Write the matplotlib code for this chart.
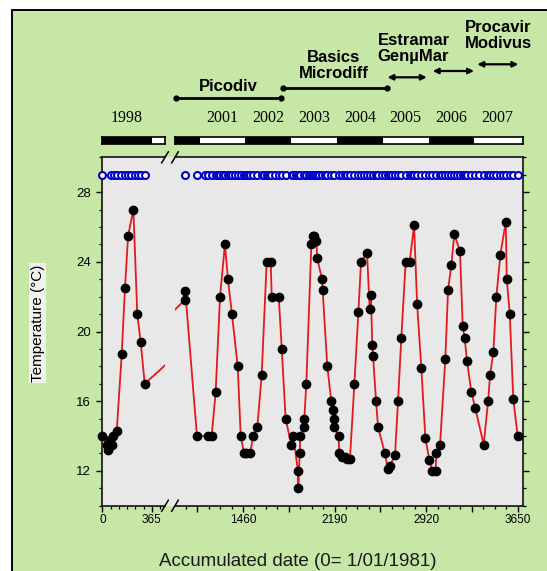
import matplotlib
matplotlib.use("Agg")
import matplotlib.pyplot as plt
from matplotlib.patches import Rectangle
from matplotlib.lines import Line2D
from matplotlib.ticker import MultipleLocator, FixedLocator, FixedFormatter
from matplotlib.transforms import blended_transform_factory
import numpy as np

plt.rcParams['font.family'] = ['Liberation Sans', 'DejaVu Sans']

# --- data ----------------------------------------------------------------
# days since start of record, temperature in deg C (one continuous series)
days = [0, 32, 40, 57, 69, 81, 106, 143, 167, 190, 229, 258, 283, 313,
        995, 1000, 1093, 1183, 1210, 1242, 1277, 1316, 1340, 1372, 1418,
        1442, 1468, 1484, 1516, 1542, 1574, 1609, 1649, 1681, 1689, 1745,
        1769, 1800, 1845, 1861, 1898, 1901, 1912, 1917, 1944, 1949, 1965,
        2005, 2016, 2030, 2045, 2052, 2090, 2095, 2132, 2164, 2175, 2183,
        2188, 2223, 2226, 2250, 2276, 2292, 2313, 2348, 2380, 2401, 2449,
        2470, 2480, 2491, 2497, 2521, 2537, 2592, 2614, 2632, 2672, 2696,
        2722, 2757, 2789, 2824, 2848, 2882, 2914, 2946, 2970, 2995, 3001,
        3031, 3073, 3095, 3121, 3145, 3190, 3212, 3228, 3246, 3281, 3312,
        3379, 3414, 3430, 3456, 3480, 3512, 3555, 3563, 3587, 3615, 3650]
temps = [14.0, 13.5, 13.2, 13.8, 13.5, 14.0, 14.3, 18.7, 22.5, 25.5, 27.0,
         21.0, 19.4, 17.0,
         21.8, 22.3, 14.0, 14.0, 14.0, 16.5, 22.0, 25.0, 23.0, 21.0, 18.0,
         14.0, 13.0, 13.0, 13.0, 14.0, 14.5, 17.5, 24.0, 24.0, 22.0, 22.0,
         19.0, 15.0, 13.5, 14.0, 12.0, 11.0, 13.0, 14.0, 14.5, 15.0, 17.0,
         25.0, 25.5, 25.5, 25.2, 24.2, 23.0, 22.4, 18.0, 16.0, 15.5, 15.0,
         14.5, 14.0, 13.0, 12.8, 12.8, 12.7, 12.7, 17.0, 21.1, 24.0, 24.5,
         21.3, 22.1, 19.2, 18.6, 16.0, 14.5, 13.0, 12.1, 12.3, 12.9, 16.0,
         19.6, 24.0, 24.0, 26.1, 21.6, 17.9, 13.9, 12.6, 12.0, 12.0, 13.0,
         13.5, 18.4, 22.4, 23.8, 25.6, 24.6, 20.3, 19.6, 18.3, 16.5, 15.6,
         13.5, 16.0, 17.5, 18.8, 22.0, 24.4, 26.3, 23.0, 21.0, 16.1, 14.0]

# sampling dates (blue open circles, drawn in a row at 29 deg C)
sample_days = [-2, 60, 85, 110, 140, 165, 190, 215, 240, 262, 285, 313,
               1000, 1093, 1160, 1183, 1210, 1242, 1260, 1277, 1297, 1316,
               1340, 1355, 1372, 1395, 1418, 1442, 1468, 1484, 1500, 1516,
               1542, 1574, 1609, 1630, 1649, 1665, 1681, 1712, 1745, 1769,
               1800, 1848, 1861, 1880, 1901, 1917, 1949, 1965, 1985, 2005,
               2016, 2037, 2050, 2070, 2090, 2110, 2132, 2164, 2186, 2223,
               2250, 2276, 2292, 2313, 2348, 2380, 2401, 2425, 2449, 2475,
               2497, 2521, 2537, 2565, 2592, 2614, 2632, 2650, 2672, 2696,
               2722, 2757, 2789, 2805, 2824, 2848, 2882, 2914, 2946, 2970,
               3001, 3031, 3050, 3073, 3095, 3121, 3145, 3165, 3190, 3212,
               3228, 3246, 3281, 3312, 3345, 3379, 3414, 3430, 3456, 3480,
               3512, 3535, 3555, 3587, 3615, 3650]
sample_row = 29.0

x_major_left = [0, 365]
x_labels_left = ['0', '365']
x_major_right = [1095, 1460, 1825, 2190, 2555, 2920, 3285, 3650]
x_labels_right = ['', '1460', '', '2190', '', '2920', '', '3650']

bar_years = list(range(1998, 2008))
label_years_left = [1998]
label_years_right = [2001, 2002, 2003, 2004, 2005, 2006, 2007]

# project names: text lines, x centre (days), baselines (pixels from top)
projects = [
    (['Picodiv'], 1345, [90.7]),
    (['Basics', 'Microdiff'], 2185, [61.7, 78.0]),
    (['Estramar', 'Gen\u00b5Mar'], 2820, [45.0, 60.5]),
    (['Procavir', 'Modivus'], 3495, [31.7, 48.3]),
]
# project periods: start day, end day, height (pixels from top), style
periods = [
    (926, 1760, 98.0, 'dots'),
    (1781, 2606, 88.3, 'dots'),
    (2612, 2925, 77.3, 'arrow'),
    (2973, 3302, 71.0, 'arrow'),
    (3328, 3655, 64.3, 'arrow'),
]

GREEN = '#c6e7a6'
PLOT_BG = '#e8e8e8'
RED = '#e3191c'
BLUE = '#0000c8'

W, H = 547, 571


def box(x0, y0, x1, y1):
    # pixel box measured from the top-left corner -> figure fraction
    return [x0 / W, 1 - y1 / H, (x1 - x0) / W, (y1 - y0) / H]


def fy(py):
    return 1 - py / H


fig = plt.figure(figsize=(W / 100, H / 100), dpi=100, facecolor='white')
fig.add_artist(Rectangle((12 / W, -0.05), 1.1, fy(10) + 0.05,
                         transform=fig.transFigure, facecolor=GREEN,
                         edgecolor='black', lw=1.4, zorder=-5))

left_box = box(102, 157.3, 165, 505.7)
right_box = box(175, 157.3, 522.7, 505.7)
# grey filling of the gap between the two halves of the broken axis
fig.add_artist(Rectangle((left_box[0] + left_box[2], left_box[1]),
                         right_box[0] - left_box[0] - left_box[2], left_box[3],
                         transform=fig.transFigure, facecolor=PLOT_BG,
                         edgecolor='none', zorder=-1))

ax1 = fig.add_axes(left_box)
ax2 = fig.add_axes(right_box)
ax1.set_xlim(-3, 463)
ax2.set_xlim(918, 3690)

d = np.array(days)
t = np.array(temps)
s = np.array(sample_days)

for ax in (ax1, ax2):
    ax.set_facecolor(PLOT_BG)
    ax.set_ylim(10, 30)
    lo, hi = ax.get_xlim()
    ax.plot(d, t, color=RED, lw=1.3, zorder=2)
    m = (d >= lo) & (d <= hi)
    ax.plot(d[m], t[m], 'o', color='black', ms=6, clip_on=False, zorder=3)
    m = (s >= lo) & (s <= hi)
    ax.plot(s[m], np.full(m.sum(), sample_row), 'o', mfc='white', mec=BLUE,
            mew=1.5, ms=5, clip_on=False, zorder=4)
    for sp in ax.spines.values():
        sp.set_linewidth(1.1)
    ax.yaxis.set_major_locator(MultipleLocator(4))
    ax.yaxis.set_minor_locator(MultipleLocator(1))
    ax.tick_params(which='major', direction='out', length=4, width=1)
    ax.tick_params(which='minor', direction='out', length=2.2, width=0.9)
    ax.tick_params(axis='x', labelsize=8.5, pad=2)
    ax.tick_params(axis='y', labelsize=9.5, pad=4)

ax1.spines['right'].set_visible(False)
ax2.spines['left'].set_visible(False)
ax2.yaxis.tick_right()
ax2.tick_params(axis='y', which='both', labelright=False)

ax1.xaxis.set_major_locator(FixedLocator(x_major_left))
ax1.xaxis.set_major_formatter(FixedFormatter(x_labels_left))
ax1.xaxis.set_minor_locator(MultipleLocator(365 / 6))
ax2.xaxis.set_major_locator(FixedLocator(x_major_right))
ax2.xaxis.set_major_formatter(FixedFormatter(x_labels_right))
ax2.xaxis.set_minor_locator(MultipleLocator(91.25))

# broken-axis marks
for cx in (165, 175):
    for cy in (157.3, 505.7):
        fig.add_artist(Line2D([(cx - 3.3) / W, (cx + 3.3) / W],
                              [fy(cy + 5.5), fy(cy - 5.5)],
                              transform=fig.transFigure, color='black', lw=1.1))

# year strips above the plot
tl1 = fig.add_axes(box(102, 136.7, 165, 144.5))
tl2 = fig.add_axes(box(175, 136.7, 522.7, 144.5))
for tl, ax, shift, label_years in ((tl1, ax1, 0, label_years_left),
                                   (tl2, ax2, 20, label_years_right)):
    tl.set_xlim(ax.get_xlim())
    tl.set_ylim(0, 1)
    tl.set_facecolor('white')
    for yr in bar_years:
        start = 365 * (yr - 1998) + shift
        if yr % 2 == 0:
            tl.axvspan(start, start + 365, color='black', lw=0)
    tl.set_xticks([])
    tl.set_yticks([])
    for sp in tl.spines.values():
        sp.set_linewidth(1.2)
    trans = blended_transform_factory(tl.transData, fig.transFigure)
    for yr in label_years:
        tl.text(365 * (yr - 1998) + shift + 182.5, fy(122), str(yr),
                transform=trans, ha='center', va='baseline', fontsize=11.5,
                family='Liberation Serif', clip_on=False)

# project names and periods
trans = blended_transform_factory(ax2.transData, fig.transFigure)
for lines, xc, baselines in projects:
    for txt, base in zip(lines, baselines):
        ax2.text(xc, fy(base), txt, transform=trans, ha='center',
                 va='baseline', fontsize=12, fontweight='bold', clip_on=False)
for x0, x1, py, style in periods:
    if style == 'dots':
        ax2.plot([x0, x1], [fy(py), fy(py)], '-o', color='black', lw=2,
                 ms=3.5, transform=trans, clip_on=False)
    else:
        ax2.annotate('', xy=(x1, fy(py)), xytext=(x0, fy(py)),
                     xycoords=trans, textcoords=trans,
                     arrowprops=dict(arrowstyle='<|-|>', color='black', lw=1.6,
                                     mutation_scale=8, shrinkA=0, shrinkB=0))

fig.text(37.8 / W, fy(323), 'Temperature (\u00b0C)', rotation=90, ha='center',
         va='center', fontsize=11,
         bbox=dict(facecolor='#f1f1ee', edgecolor='none', pad=1))
fig.text(298 / W, fy(566), 'Accumulated date (0= 1/01/1981)', ha='center',
         va='baseline', fontsize=13.5, color='#1a1a1a')

fig.savefig('out.png', dpi=100)
